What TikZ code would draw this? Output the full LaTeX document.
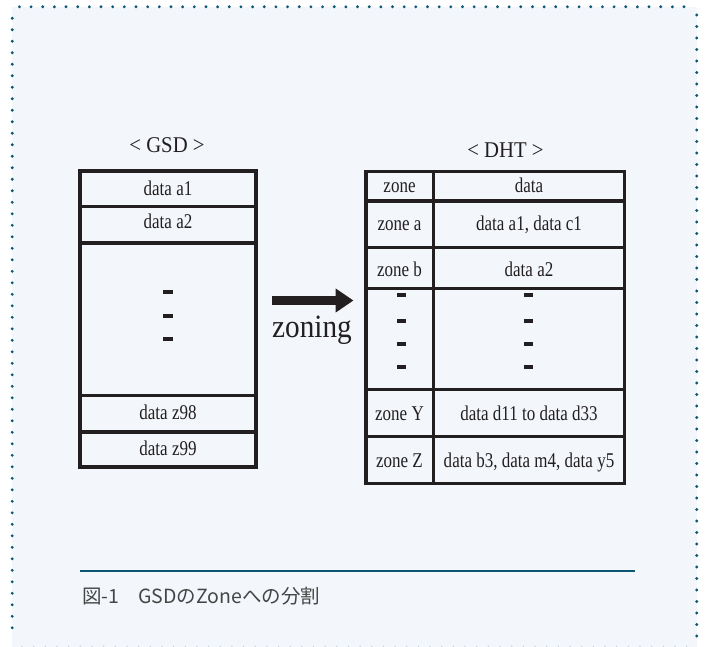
\documentclass[tikz,border=0pt]{standalone}
\usepackage{fontspec}
\usetikzlibrary{arrows.meta}
\newfontfamily\tms[FakeStretch=0.81]{Liberation Serif}
\newfontfamily\tmsh[FakeStretch=0.92]{Liberation Serif}
\newfontfamily\tmsz[FakeStretch=0.9]{Liberation Serif}
\newfontfamily\cjk{Noto Sans CJK JP}
\definecolor{bgblue}{HTML}{F3F7FB}
\definecolor{dotteal}{HTML}{0B5670}
\definecolor{ink}{HTML}{231F20}
\definecolor{capgrey}{HTML}{454545}
\definecolor{faint}{HTML}{C9D1D9}
\tikzset{
  cell/.style={anchor=base, inner sep=0pt, text=ink, font=\tms\fontsize{21pt}{21pt}\selectfont},
  head/.style={anchor=base, inner sep=0pt, text=ink, font=\tmsh\fontsize{22.5pt}{22.5pt}\selectfont},
  grid/.style={draw=ink, line width=3.2pt},
  vdot/.style={fill=ink},
}
\begin{document}
\begin{tikzpicture}[x=1pt,y=-1pt]
\useasboundingbox (0,0) rectangle (706,647);
% background panel
\fill[bgblue] (12,7) rectangle (697,647);
\foreach \i in {0,...,57} \fill[dotteal] (19.4+\i*11.66,6.8) circle (1.6);
\foreach \i in {0,...,53} \fill[dotteal] (12.2,18.3+\i*11.5) circle (1.6);
\foreach \i in {0,...,54} \fill[dotteal] (696.7,15+\i*11.5) circle (1.6);
\foreach \i in {0,...,57} \fill[faint] (22+\i*11.66,646.3) circle (0.8);

% GSD table
\node[head] (gsdh) at (167,153) {< GSD >};
\draw[grid] (80,171) rectangle (256,467);
\draw[grid] (80,206.5) -- (256,206.5);
\draw[grid] (80,243) -- (256,243);
\draw[grid] (80,395.5) -- (256,395.5);
\draw[grid] (80,432) -- (256,432);
\node[cell] (ga1) at (168,196) {data a1};
\node[cell] (ga2) at (168,228.5) {data a2};
\node[cell] (gz98) at (168,419) {data z98};
\node[cell] (gz99) at (168,455) {data z99};
\foreach \y in {292,316,339} \fill[vdot] (163,\y-2.2) rectangle (173,\y+2.2);

% arrow
\coordinate (arrS) at (272,300.5);
\coordinate (arrE) at (353.5,300.5);
\draw[ink, line width=9pt, -{Triangle[length=18pt,width=23pt]}] (arrS) -- (arrE);
\node[anchor=base, inner sep=0pt, text=ink, font=\tmsz\fontsize{32.5pt}{32.5pt}\selectfont] (zon) at (312,337) {zoning};

% DHT table
\node[head] (dhth) at (505.5,158) {< DHT >};
\draw[grid] (366,171.5) rectangle (624.5,483.5);
\draw[grid] (433.5,171.5) -- (433.5,483.5);
\foreach \y in {201,247.5,288.5,389.5,436.5} \draw[grid] (366,\y) -- (624.5,\y);
\node[cell] (z0) at (399.5,193) {zone};
\node[cell] (d0) at (529,193) {data};
\node[cell] (z1) at (399.5,230) {zone a};
\node[cell] (d1) at (529,230) {data a1, data c1};
\node[cell] (z2) at (399.5,276.5) {zone b};
\node[cell] (d2) at (529,276.5) {data a2};
\node[cell] (z3) at (399.5,420) {zone Y};
\node[cell] (d3) at (529,420) {data d11 to data d33};
\node[cell] (z4) at (399.5,467) {zone Z};
\node[cell] (d4) at (529,467) {data b3, data m4, data y5};
\foreach \y in {295,321,344,367} {
  \fill[vdot] (396.5,\y-2.2) rectangle (405.5,\y+2.2);
  \fill[vdot] (523.5,\y-2.2) rectangle (533,\y+2.2);
}

% caption
\coordinate (ruleL) at (80,570.7);
\coordinate (ruleR) at (635,570.7);
\draw[dotteal, line width=2.2pt] (ruleL) -- (ruleR);
\node[anchor=base west, inner sep=0pt, text=capgrey, font=\cjk\fontsize{19.5pt}{19.5pt}\selectfont] (cap) at (82,603) {図-1\hspace{19pt}GSDのZoneへの分割};
\end{tikzpicture}
\end{document}
